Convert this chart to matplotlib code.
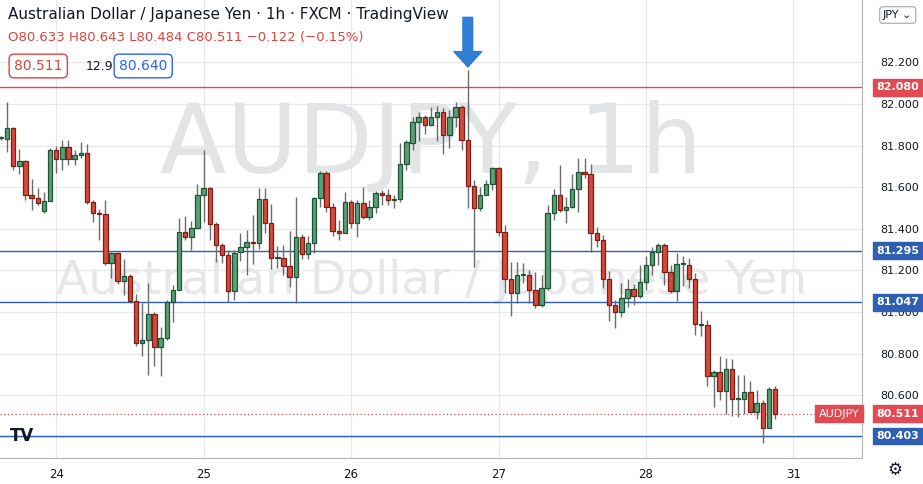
import matplotlib.pyplot as plt
import matplotlib.transforms as mtransforms
from matplotlib.patches import Rectangle
import numpy as np

# candles (hourly), AUD/JPY
opens = [81.837, 81.832, 81.885, 81.702, 81.726, 81.563, 81.548, 81.486, 81.534, 81.779,
         81.736, 81.793, 81.736, 81.755, 81.764, 81.529, 81.476, 81.471, 81.236, 81.284,
         81.149, 81.173, 81.053, 80.851, 80.865, 80.990, 80.832, 80.875, 81.048, 81.106,
         81.385, 81.361, 81.404, 81.563, 81.596, 81.423, 81.322, 81.274, 81.101, 81.288,
         81.313, 81.337, 81.332, 81.543, 81.428, 81.260, 81.260, 81.221, 81.168, 81.361,
         81.279, 81.332, 81.548, 81.668, 81.505, 81.389, 81.380, 81.529, 81.428, 81.524,
         81.457, 81.505, 81.572, 81.563, 81.538, 81.543, 81.712, 81.813, 81.913, 81.938,
         81.899, 81.938, 81.962, 81.851, 81.938, 81.986, 81.827, 81.606, 81.500, 81.563,
         81.615, 81.692, 81.385, 81.159, 81.091, 81.178, 81.178, 81.106, 81.034, 81.115,
         81.476, 81.563, 81.490, 81.505, 81.591, 81.673, 81.663, 81.380, 81.346, 81.159,
         81.034, 81.000, 81.067, 81.111, 81.077, 81.144, 81.226, 81.288, 81.322, 81.192,
         81.101, 81.231, 81.226, 81.159, 80.938, 80.938, 80.692, 80.712, 80.620, 80.726,
         80.582, 80.582, 80.615, 80.519, 80.563, 80.442, 80.630]
closes = [81.837, 81.885, 81.702, 81.726, 81.563, 81.548, 81.524, 81.534, 81.779, 81.736,
          81.793, 81.736, 81.755, 81.764, 81.529, 81.476, 81.471, 81.236, 81.284, 81.149,
          81.173, 81.053, 80.851, 80.865, 80.990, 80.832, 80.875, 81.048, 81.106, 81.385,
          81.361, 81.404, 81.563, 81.596, 81.423, 81.322, 81.274, 81.101, 81.284, 81.313,
          81.337, 81.332, 81.543, 81.428, 81.260, 81.260, 81.221, 81.168, 81.361, 81.279,
          81.332, 81.548, 81.668, 81.505, 81.389, 81.380, 81.529, 81.428, 81.524, 81.457,
          81.505, 81.572, 81.563, 81.538, 81.538, 81.712, 81.817, 81.913, 81.938, 81.899,
          81.938, 81.962, 81.851, 81.938, 81.986, 81.827, 81.606, 81.500, 81.563, 81.615,
          81.692, 81.385, 81.159, 81.091, 81.178, 81.178, 81.106, 81.034, 81.115, 81.476,
          81.563, 81.490, 81.505, 81.591, 81.673, 81.663, 81.380, 81.346, 81.159, 81.034,
          81.000, 81.067, 81.111, 81.077, 81.144, 81.226, 81.288, 81.322, 81.192, 81.101,
          81.231, 81.231, 81.159, 80.942, 80.938, 80.692, 80.712, 80.620, 80.726, 80.582,
          80.582, 80.615, 80.519, 80.563, 80.442, 80.630, 80.511]
highs = [81.846, 82.010, 81.889, 81.784, 81.731, 81.639, 81.596, 81.577, 81.788, 81.798,
         81.827, 81.827, 81.779, 81.817, 81.808, 81.538, 81.495, 81.538, 81.288, 81.288,
         81.255, 81.183, 81.087, 81.043, 81.139, 81.000, 80.928, 81.058, 81.130, 81.452,
         81.462, 81.438, 81.615, 81.779, 81.601, 81.433, 81.332, 81.298, 81.298, 81.380,
         81.394, 81.466, 81.596, 81.596, 81.519, 81.317, 81.322, 81.389, 81.553, 81.375,
         81.365, 81.553, 81.678, 81.678, 81.524, 81.442, 81.577, 81.538, 81.538, 81.601,
         81.538, 81.582, 81.587, 81.591, 81.563, 81.813, 81.827, 81.938, 81.962, 81.947,
         81.986, 81.990, 81.981, 81.971, 82.010, 81.995, 82.163, 81.635, 81.601, 81.635,
         81.697, 81.697, 81.418, 81.240, 81.240, 81.236, 81.202, 81.192, 81.178, 81.514,
         81.591, 81.707, 81.553, 81.663, 81.740, 81.740, 81.712, 81.409, 81.370, 81.197,
         81.058, 81.139, 81.159, 81.135, 81.226, 81.269, 81.313, 81.332, 81.332, 81.226,
         81.284, 81.269, 81.260, 81.188, 81.005, 80.962, 80.721, 80.788, 80.779, 80.774,
         80.697, 80.697, 80.668, 80.625, 80.577, 80.639, 80.644]
lows = [81.827, 81.769, 81.683, 81.663, 81.538, 81.490, 81.514, 81.476, 81.534, 81.668,
        81.683, 81.707, 81.707, 81.740, 81.519, 81.433, 81.346, 81.226, 81.163, 81.135,
        81.082, 81.043, 80.837, 80.788, 80.697, 80.740, 80.692, 80.865, 80.952, 81.106,
        81.346, 81.298, 81.404, 81.433, 81.346, 81.240, 81.236, 81.048, 81.058, 81.245,
        81.178, 81.231, 81.303, 81.380, 81.207, 81.212, 81.178, 81.120, 81.043, 81.255,
        81.255, 81.284, 81.505, 81.481, 81.365, 81.346, 81.380, 81.404, 81.361, 81.447,
        81.442, 81.476, 81.514, 81.514, 81.500, 81.529, 81.683, 81.779, 81.822, 81.856,
        81.899, 81.822, 81.760, 81.788, 81.889, 81.779, 81.500, 81.216, 81.486, 81.563,
        81.587, 81.365, 81.091, 80.981, 81.043, 81.139, 81.043, 81.019, 81.024, 81.106,
        81.442, 81.481, 81.428, 81.500, 81.481, 81.644, 81.288, 81.313, 81.115, 80.957,
        80.923, 80.976, 81.024, 81.034, 81.067, 81.106, 81.178, 81.226, 81.130, 81.091,
        81.053, 81.125, 81.115, 80.889, 80.885, 80.644, 80.543, 80.577, 80.510, 80.500,
        80.495, 80.510, 80.514, 80.486, 80.370, 80.481, 80.486]

day_labels = ["24", "25", "26", "27", "28", "31"]
day_index = [9, 33, 57, 81, 105, 129]   # candle index of each day's 00:00

levels = [82.080, 81.295, 81.047, 80.403]
level_colors = ["#e04a52", "#2f5fb3", "#2f5fb3", "#2f5fb3"]
last_price = 80.511

UP_BODY, UP_EDGE = "#5b9e76", "#1e5436"
DN_BODY, DN_EDGE = "#d64a3b", "#7a1e17"

fig = plt.figure(figsize=(9.23, 4.84), dpi=100)
ax = fig.add_axes([0, 26 / 484, 862 / 923, 458 / 484])
ax.set_facecolor("white")

x = np.arange(len(closes)) + 0.14
w = 0.72
for i in range(len(closes)):
    o, c, h, l = opens[i], closes[i], highs[i], lows[i]
    up = c >= o
    ax.vlines(x[i], l, h, color="#6b6b6b", lw=1, zorder=3)
    bottom = min(o, c)
    height = max(abs(c - o), 0.004)
    ax.add_patch(Rectangle((x[i] - w / 2, bottom), w, height,
                           facecolor=UP_BODY if up else DN_BODY,
                           edgecolor=UP_EDGE if up else DN_EDGE, lw=0.9, zorder=4))

ax.set_xlim(0, 140.3)
ax.set_ylim(80.298, 82.5)

# grid
yt = np.round(np.arange(80.4, 82.21, 0.2), 1)
for y in yt:
    ax.axhline(y, color="#e6e8ec", lw=0.9, zorder=0)
for d in day_index:
    ax.axvline(d + 0.14, color="#e6e8ec", lw=0.9, zorder=0)

# watermark
ax.text(0.5, 0.68, "AUDJPY, 1h", transform=ax.transAxes, ha="center", va="center",
        fontsize=70, color="#e3e4e6", zorder=1)
ax.text(0.5, 0.385, "Australian Dollar / Japanese Yen", transform=ax.transAxes,
        ha="center", va="center", fontsize=34, color="#e6e7e9", zorder=1)

# levels
tr = mtransforms.blended_transform_factory(ax.transAxes, ax.transData)
lab_x = 1.0 + 14 / 862
for lv, col in zip(levels, level_colors):
    ax.axhline(lv, color=col, lw=1, zorder=2)
    ax.text(lab_x, lv, f"{lv:.3f}", transform=tr, ha="left", va="center",
            fontsize=8, color="white", fontweight="bold", zorder=10, clip_on=False,
            bbox=dict(boxstyle="square,pad=0.3", fc=col, ec=col))
ax.axhline(last_price, color="#e04a52", lw=0.9, ls=(0, (1, 2)), zorder=2)
ax.text(lab_x, last_price, f"{last_price:.3f}", transform=tr, ha="left",
        va="center", fontsize=8, color="white", fontweight="bold", clip_on=False,
        zorder=10, bbox=dict(boxstyle="square,pad=0.3", fc="#e04a52", ec="#e04a52"))
ax.text(0.997, last_price, "AUDJPY", transform=tr, ha="right", va="center",
        fontsize=8, color="white", zorder=10,
        bbox=dict(boxstyle="square,pad=0.3", fc="#e04a52", ec="#e04a52"))

# arrow over the spike high
ax.annotate("", xy=(x[76], 82.165), xytext=(x[76], 82.43),
            arrowprops=dict(arrowstyle="simple,head_width=2.0,head_length=1.1,tail_width=0.7",
                            color="#2f7fd4"), zorder=10)

# axes
ax.yaxis.tick_right()
ax.set_yticks(yt)
ax.set_yticklabels([f"{v:.3f}" for v in yt])
ax.tick_params(axis="y", length=0, pad=13, labelsize=8, labelcolor="#131722")
ax.set_xticks([d + 0.14 for d in day_index])
ax.set_xticklabels(day_labels)
ax.tick_params(axis="x", length=0, pad=7, labelsize=8.5, labelcolor="#131722")
for s in ["top", "left"]:
    ax.spines[s].set_visible(False)
ax.spines["right"].set_color("#b2b5be")
ax.spines["bottom"].set_color("#b2b5be")

# header
fig.text(8 / 923, 1 - 15 / 484, "Australian Dollar / Japanese Yen · 1h · FXCM · TradingView",
         fontsize=11, color="#131722", va="center")
fig.text(8 / 923, 1 - 38 / 484, "O80.633 H80.643 L80.484 C80.511 −0.122 (−0.15%)",
         fontsize=9.5, color="#d8453c", va="center")
fig.text(14 / 923, 1 - 66 / 484, "80.511", fontsize=10, color="#d8453c", va="center",
         bbox=dict(boxstyle="round,pad=0.35", fc="white", ec="#d8453c"))
fig.text(86 / 923, 1 - 66 / 484, "12.9", fontsize=9, color="#131722", va="center")
fig.text(119 / 923, 1 - 66 / 484, "80.640", fontsize=10, color="#2962ff", va="center",
         bbox=dict(boxstyle="round,pad=0.35", fc="white", ec="#2962ff"))
fig.text(883 / 923, 1 - 15 / 484, "JPY ⌄", fontsize=8, color="#131722", va="center",
         bbox=dict(boxstyle="round,pad=0.3", fc="white", ec="#b2b5be"))
fig.text(10 / 923, 1 - 436 / 484, "TV", fontsize=12, fontweight="bold", color="#131722",
         va="center")
fig.text(895 / 923, 1 - 470 / 484, "⚙", fontsize=12, color="#131722", ha="center",
         va="center")

fig.savefig("out.png", dpi=100)
